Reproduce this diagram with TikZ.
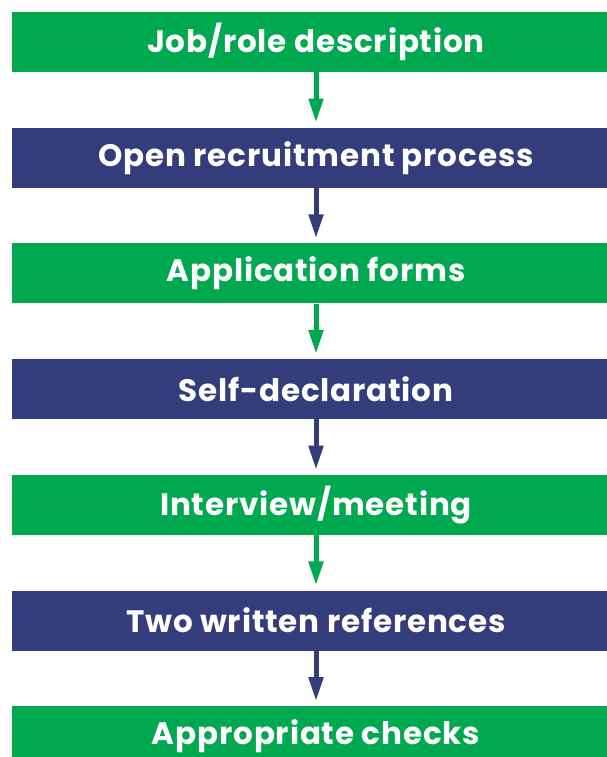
\documentclass[tikz,border=0pt]{standalone}
\usepackage{fontspec}
\setmainfont{Poppins}[LetterSpace=2.7]
\usetikzlibrary{positioning}
\usetikzlibrary{arrows.meta}
\definecolor{stepgreen}{RGB}{0,169,79}
\definecolor{stepblue}{RGB}{52,61,123}
\tikzset{
	stagebox/.style={minimum width=608pt, minimum height=60pt, inner sep=0pt, text=white, font=\fontsize{31}{36}\selectfont\bfseries},
	greenbox/.style={stagebox, fill=stepgreen},
	bluebox/.style={stagebox, fill=stepblue},
	flow/.style={line width=5pt, -{Triangle[length=24pt,width=14pt]}, shorten >=5pt}
}

\begin{document}
\begin{tikzpicture}[x=1pt, y=-1pt, node distance=55.33pt]
	\useasboundingbox (0,0) rectangle (607,757);
	\clip (0,0) rectangle (607,757);
	\node[greenbox] (job) at (316,42) {Job/role description};
	\node[bluebox, below=of job] (open) {Open recruitment process};
	\node[greenbox, below=of open] (forms) {Application forms};
	\node[bluebox, below=of forms] (self) {Self-declaration};
	\node[greenbox, below=of self] (meet) {Interview/meeting};
	\node[bluebox, below=of meet] (refs) {Two written references};
	\node[greenbox, below=of refs] (checks) {Appropriate checks};
	\draw[flow, stepgreen] (job) -- (open);
	\draw[flow, stepblue] (open) -- (forms);
	\draw[flow, stepgreen] (forms) -- (self);
	\draw[flow, stepblue] (self) -- (meet);
	\draw[flow, stepgreen] (meet) -- (refs);
	\draw[flow, stepblue] (refs) -- (checks);
\end{tikzpicture}
\end{document}
